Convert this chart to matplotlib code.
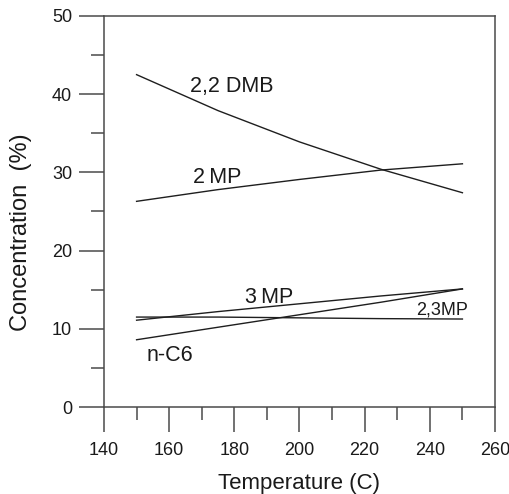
import matplotlib
matplotlib.use("Agg")
import matplotlib.pyplot as plt
from matplotlib.ticker import MultipleLocator

plt.rcParams['font.family'] = ['Liberation Sans', 'DejaVu Sans']

temperature = [150, 175, 200, 225, 250]
dmb22 = [42.5, 37.9, 33.9, 30.4, 27.4]
mp2 = [26.3, 27.8, 29.1, 30.3, 31.1]
mp3 = [11.1, 12.2, 13.2, 14.2, 15.1]
mp23 = [11.5, 11.5, 11.4, 11.3, 11.25]
nc6 = [8.6, 10.2, 11.8, 13.4, 15.1]

labels = ["2,2 DMB", "2\u2009MP", "3\u2009MP", "2,3MP", "n-C6"]
label_x = [166.4, 167.3, 183.3, 235.7, 153.1]
label_y = [40.3, 28.6, 13.3, 11.8, 5.9]
label_size = [15.5, 15.5, 15.5, 13, 15.5]

W, H = 509, 494
fig = plt.figure(figsize=(W / 100, H / 100), dpi=100)
ax = fig.add_axes([104 / W, 1 - 407 / H, (495 - 104) / W, (407 - 16) / H])

lc = '#1e1e1e'
for s in [dmb22, mp2, mp3, mp23, nc6]:
    ax.plot(temperature, s, color=lc, lw=1.0)

for t, x, y, fs in zip(labels, label_x, label_y, label_size):
    ax.text(x, y, t, ha='left', va='baseline', fontsize=fs, color='#1a1a1a')

ax.set_xlim(140, 260)
ax.set_ylim(0, 50)
ax.xaxis.set_major_locator(MultipleLocator(20))
ax.xaxis.set_minor_locator(MultipleLocator(10))
ax.yaxis.set_major_locator(MultipleLocator(10))
ax.yaxis.set_minor_locator(MultipleLocator(5))

sc = '#4a4a4a'
for sp in ax.spines.values():
    sp.set_color(sc)
    sp.set_linewidth(1.1)
ax.tick_params(which='major', direction='out', length=18, width=1.1, color=sc,
               labelsize=13, labelcolor='#1a1a1a')
ax.tick_params(axis='y', which='major', pad=5)
ax.tick_params(axis='x', which='major', pad=7)
ax.tick_params(which='minor', direction='out', length=9.4, width=1.1, color=sc)

fig.text(299.5 / W, (H - 489.3) / H, "Temperature (C)", ha='center', va='baseline',
         fontsize=16, color='#1a1a1a')
fig.text(27 / W, (H - 232.5) / H, "Concentration  (%)", rotation=90, rotation_mode='anchor',
         ha='center', va='baseline', fontsize=17, color='#1a1a1a')

fig.savefig('out.png', dpi=100)
